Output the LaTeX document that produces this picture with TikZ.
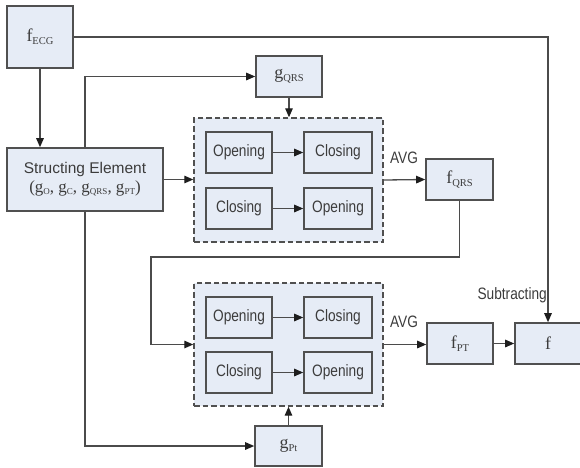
\documentclass[tikz,border=0pt]{standalone}
\usepackage{fontspec}
\setmainfont{Liberation Serif}
\newfontfamily\boxsans[FakeStretch=0.83]{Liberation Sans}
\newfontfamily\plainsans{Liberation Sans}
\usetikzlibrary{arrows.meta}
\definecolor{boxfill}{RGB}{230,236,246}
\definecolor{boxline}{RGB}{80,80,80}
\definecolor{wirecol}{RGB}{75,75,75}
\definecolor{tipcol}{RGB}{30,30,30}
\definecolor{txtcol}{RGB}{60,60,60}
\newcommand{\fsub}[2]{#1\raisebox{-3pt}{\fontsize{10.5}{10.5}\selectfont #2}}
\newcommand{\gsub}[2]{#1\raisebox{-2pt}{\fontsize{9}{9}\selectfont #2}}
\tikzset{
  blk/.style={draw=boxline, line width=1.6pt, fill=boxfill, inner sep=0pt,
    minimum width=66pt, minimum height=41pt, text=txtcol, align=center},
  op/.style={blk, font=\boxsans\fontsize{16.5}{16.5}\selectfont},
  sym/.style={blk, font=\fontsize{18}{18}\selectfont},
  grp/.style={draw=boxline, line width=1.4pt, dash pattern=on 5.5pt off 3pt,
    fill=boxfill, inner sep=0pt},
  wire/.style={draw=wirecol, line width=1.3pt, -{Triangle[length=9pt,width=7.5pt,color=tipcol]}},
  lbl/.style={text=txtcol, inner sep=0pt, font=\boxsans\fontsize{16.5}{16.5}\selectfont}
}
\begin{document}
\begin{tikzpicture}[x=1pt, y=-1pt]
\useasboundingbox (0,0) rectangle (580,467);
% dashed groups
\node[grp, minimum width=189pt, minimum height=124pt] (dash1) at (288.5,180) {};
\node[grp, minimum width=189pt, minimum height=123pt] (dash2) at (288.5,344.5) {};
% blocks
\node[sym, minimum width=66pt, minimum height=62pt] (fecg) at (40,37) {\fsub{f}{ECG}};
\node[blk, minimum width=156pt, minimum height=63pt] (se) at (85,179.5)
  {{\plainsans\fontsize{15.5}{15.5}\selectfont Structing Element}\\[3pt]
   {\fontsize{17}{17}\selectfont (\gsub{g}{O}, \gsub{g}{C}, \gsub{g}{QRS}, \gsub{g}{PT})}};
\node[sym] (gqrs) at (289,76.5) {\fsub{g}{QRS}};
\node[op] (o1) at (239,152.5) {Opening};
\node[op, minimum width=68pt] (c1) at (338,152.5) {Closing};
\node[op] (c2) at (239,208.5) {Closing};
\node[op, minimum width=68pt] (o2) at (338,208.5) {Opening};
\node[sym, minimum width=67pt] (fqrs) at (459.5,179.5) {\fsub{f}{QRS}};
\node[op] (o3) at (239,317.5) {Opening};
\node[op, minimum width=68pt] (c3) at (338,317.5) {Closing};
\node[op] (c4) at (239,372.5) {Closing};
\node[op, minimum width=68pt] (o4) at (338,372.5) {Opening};
\node[sym] (fpt) at (460,343.5) {\fsub{f}{PT}};
\node[sym] (f) at (548,343.5) {f};
\node[sym, minimum width=67pt, minimum height=40pt] (gpt) at (288.5,446) {\fsub{g}{Pt}};
% labels
\node[lbl] (avg1) at (404,158) {AVG};
\node[lbl] (avg2) at (404,322) {AVG};
\node[lbl, anchor=east] (sub) at (547,295) {Subtracting};
% connectors
\coordinate (k1) at (151,257);
\draw[wire] (fecg.south) -- (fecg.south |- se.north);
\draw[wire] (fecg.east) -| (f.north);
\draw[wire] (se.north) |- (gqrs.west);
\draw[wire] (gqrs.south) -- (gqrs.south |- dash1.north);
\draw[wire] (se.east) -- (se.east -| dash1.west);
\draw[wire] (o1) -- (c1);
\draw[wire] (c2) -- (o2);
\draw[wire] (o3) -- (c3);
\draw[wire] (c4) -- (o4);
\draw[wire] (dash1.east) -- (fqrs.west);
\draw[wire] (fqrs.south) |- (k1) |- (dash2.west);
\draw[wire] (se.south) |- (gpt.west);
\draw[wire] (gpt.north) -- (gpt.north |- dash2.south);
\draw[wire] (dash2.east) -- (dash2.east -| fpt.west);
\draw[wire] (fpt) -- (f);
\end{tikzpicture}
\end{document}
